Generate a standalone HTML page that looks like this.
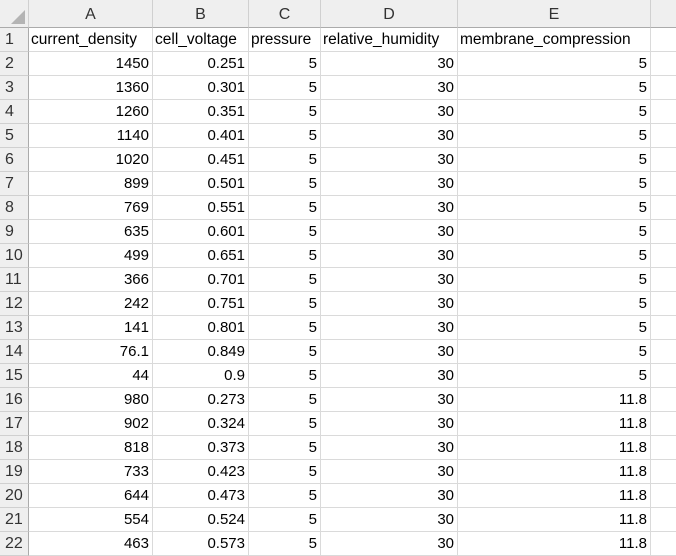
<!DOCTYPE html>
<html><head><meta charset="utf-8"><style>
body{margin:0;width:676px;height:540px;overflow:hidden;background:#fff;font-family:"Liberation Sans",Arial,sans-serif;}
.c{position:absolute;box-sizing:border-box;font-size:15px;line-height:23px;white-space:nowrap;overflow:hidden;color:#000;padding:0 3px;}
.h{background:#efefef;color:#333;text-align:center;font-size:16px;}
.r{text-align:right}
.t{font-size:15.5px;padding-left:2px}
</style></head><body>
<div id="g"></div>
<script>
const colHeaders=["A","B","C","D","E",""];
const headers=["current_density","cell_voltage","pressure","relative_humidity","membrane_compression"];
const rows=[
[1450,0.251,5,30,5],[1360,0.301,5,30,5],[1260,0.351,5,30,5],[1140,0.401,5,30,5],[1020,0.451,5,30,5],
[899,0.501,5,30,5],[769,0.551,5,30,5],[635,0.601,5,30,5],[499,0.651,5,30,5],[366,0.701,5,30,5],
[242,0.751,5,30,5],[141,0.801,5,30,5],[76.1,0.849,5,30,5],[44,0.9,5,30,5],[980,0.273,5,30,11.8],
[902,0.324,5,30,11.8],[818,0.373,5,30,11.8],[733,0.423,5,30,11.8],[644,0.473,5,30,11.8],[554,0.524,5,30,11.8],
[463,0.573,5,30,11.8]];
const xs=[0,29,153,249,321,458,651,700];
const g=document.getElementById('g');
function cell(x,y,w,h,txt,cls,name,inter){
  const d=document.createElement('div');
  d.className='c '+cls;
  d.style.left=x+'px';d.style.top=y+'px';d.style.width=w+'px';d.style.height=h+'px';
  d.textContent=txt;
  
  
  g.appendChild(d);return d;
}
const corner=cell(0,0,29,28,'','h','select-all-corner','true');
corner.style.borderRight='1px solid #d0d0d0';corner.style.borderBottom='1px solid #ababab';
corner.innerHTML='<svg width="29" height="28" style="position:absolute;left:0;top:0"><polygon points="25,10 25,24 11,24" fill="#b4b4b4"/></svg>';
for(let i=0;i<6;i++){
  const d=cell(xs[i+1],0,xs[i+2]-xs[i+1],28,colHeaders[i],'h','column-header-'+(colHeaders[i]||'f').toLowerCase(),'true');
  d.style.borderRight='1px solid #d0d0d0';d.style.borderBottom='1px solid #ababab';d.style.lineHeight='30px';
}
const allRows=[headers].concat(rows);
for(let r=0;r<22;r++){
  const y=28+24*r;
  const rh=cell(0,y,29,24,String(r+1),'h','row-header-'+(r+1),'true');
  rh.style.borderRight='1px solid #ababab';rh.style.borderBottom='1px solid #d0d0d0';rh.style.textAlign='left';rh.style.paddingLeft='5px';
  for(let c=0;c<6;c++){
    const v=allRows[r]&&c<5?allRows[r][c]:'';
    const d=cell(xs[c+1],y,xs[c+2]-xs[c+1],24,v===undefined?'':String(v),r===0?'t':'r','cell-'+(colHeaders[c]||'f').toLowerCase()+(r+1),'true');
    d.style.borderRight='1px solid #dadada';d.style.borderBottom='1px solid #dadada';
  }
}
</script>
</body></html>
